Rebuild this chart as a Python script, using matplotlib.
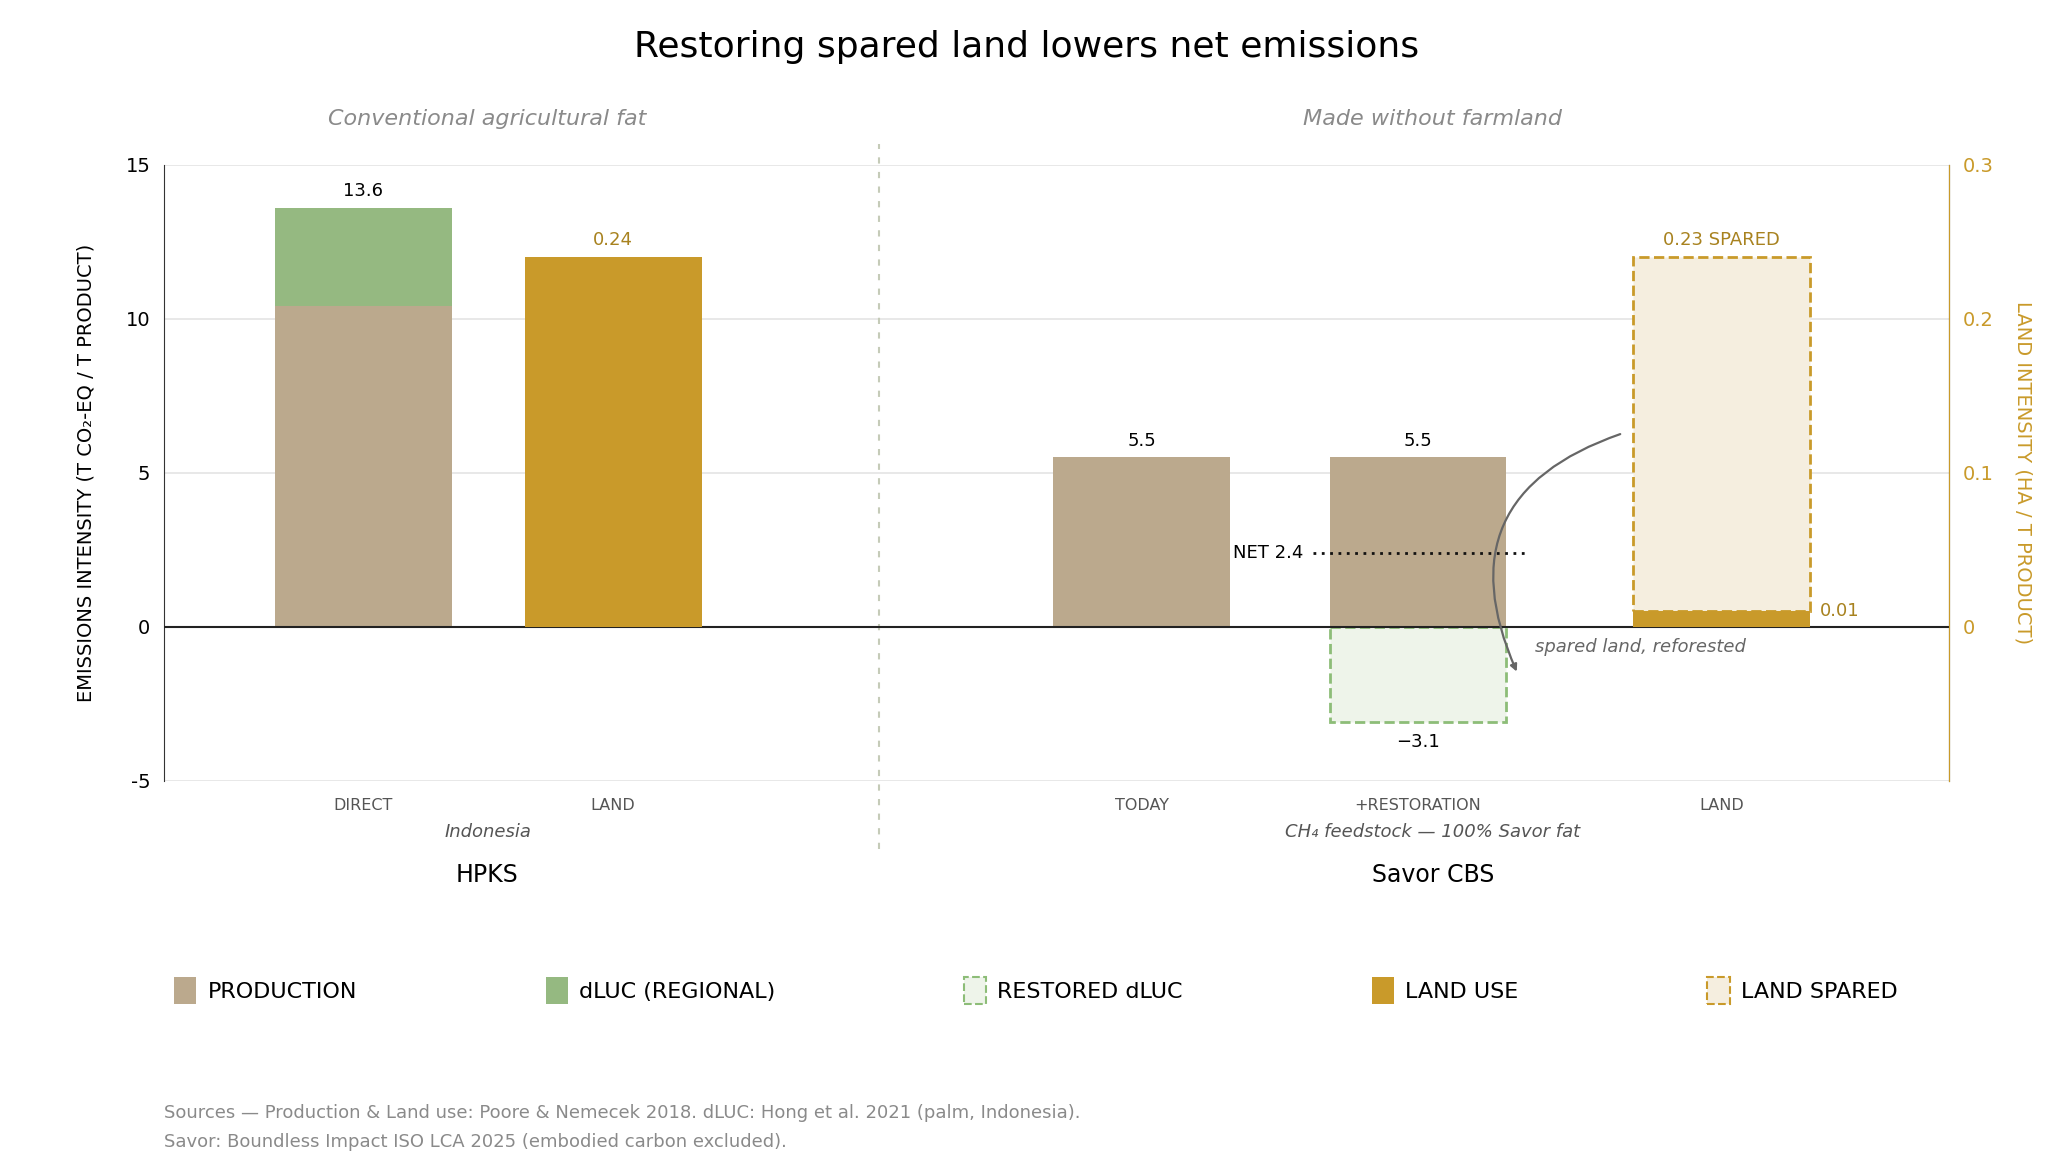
import matplotlib.pyplot as plt
from matplotlib.patches import Patch
import matplotlib.transforms as mtrans

# data
cats = ["DIRECT", "LAND", "TODAY", "+RESTORATION", "LAND"]
xpos = [0, 1, 3.115, 4.22, 5.435]
production = [10.4, 5.5, 5.5]      # DIRECT, TODAY, +RESTORATION
dluc = 3.2                          # HPKS regional dLUC
restored = -3.1
net = 2.4
land_hpks = 0.24
land_savor = 0.01
land_spared = 0.23

C_PROD = "#BBA98D"
C_DLUC = "#95B981"
C_LAND = "#C99A2A"
C_SPARE = "#F5EEDF"
C_REST = "#EEF4EA"
C_REST_E = "#8DBD78"
GREY = "#8a8a8a"
w = 0.707

fig = plt.figure(figsize=(20.54, 11.67), dpi=100)
ax = fig.add_axes([0.080, 0.331, 0.869, 0.528])
ax2 = ax.twinx()
ax.set_ylim(-5, 15)
ax2.set_ylim(-0.1, 0.3)
ax.set_xlim(-0.796, 6.346)

for y in [5, 10, 15, -5]:
    ax.axhline(y, color="#e6e6e6", lw=1.3, zorder=0)
ax.axhline(0, color="#222222", lw=1.5, zorder=5)

# HPKS direct
ax.bar(xpos[0], production[0], w, color=C_PROD, zorder=2)
ax.bar(xpos[0], dluc, w, bottom=production[0], color=C_DLUC, zorder=2)
ax.text(xpos[0], production[0] + dluc + 0.25, "13.6", ha="center", va="bottom", fontsize=13)
# HPKS land
ax2.bar(xpos[1], land_hpks, w, color=C_LAND, zorder=2)
ax2.text(xpos[1], land_hpks + 0.005, "0.24", ha="center", va="bottom", fontsize=13, color="#a8821f")
# Savor
ax.bar(xpos[2], production[1], w, color=C_PROD, zorder=2)
ax.text(xpos[2], production[1] + 0.25, "5.5", ha="center", va="bottom", fontsize=13)
ax.bar(xpos[3], production[2], w, color=C_PROD, zorder=2)
ax.text(xpos[3], production[2] + 0.25, "5.5", ha="center", va="bottom", fontsize=13)
ax.bar(xpos[3], restored, w, color=C_REST, edgecolor=C_REST_E, ls="--", lw=2, zorder=2)
ax.text(xpos[3], restored - 0.35, "\u22123.1", ha="center", va="top", fontsize=13)
ax.plot([3.80, 4.65], [net, net], ls=(0, (1, 2)), color="#111111", lw=2, zorder=6)
ax.text(3.76, net, "NET 2.4", ha="right", va="center", fontsize=13, zorder=6)
# Savor land
ax2.bar(xpos[4], land_spared, w, bottom=land_savor, color=C_SPARE, edgecolor=C_LAND,
        ls="--", lw=2, zorder=2)
ax2.bar(xpos[4], land_savor, w, color=C_LAND, zorder=3)
ax2.text(xpos[4], land_savor + land_spared + 0.005, "0.23 SPARED", ha="center", va="bottom",
         fontsize=13, color="#a8821f")
ax2.text(xpos[4] + w / 2 + 0.04, land_savor, "0.01", ha="left", va="center", fontsize=13, color="#a8821f")

ax.annotate("", xy=(4.62, -1.54), xytext=(5.04, 6.28),
            arrowprops=dict(arrowstyle="-|>", color="#666666", lw=1.6,
                            connectionstyle="arc3,rad=0.55"), zorder=7)
ax.text(4.69, -0.65, "spared land, reforested", style="italic", color="#666666",
        fontsize=13, ha="left", va="center")

# axes styling
for s in ["top"]:
    ax.spines[s].set_visible(False)
    ax2.spines[s].set_visible(False)
ax.spines["bottom"].set_visible(False)
ax2.spines["bottom"].set_visible(False)
ax.spines["left"].set_color("#333333")
ax2.spines["left"].set_visible(False)
ax2.spines["right"].set_color(C_LAND)
ax.set_xticks([])
ax.set_yticks([-5, 0, 5, 10, 15])
ax.set_yticklabels(["-5", "0", "5", "10", "15"])
ax.tick_params(axis="y", length=0, labelsize=14, pad=10)
ax2.set_yticks([0, 0.1, 0.2, 0.3])
ax2.set_yticklabels(["0", "0.1", "0.2", "0.3"])
ax2.tick_params(axis="y", length=0, labelsize=14, colors=C_LAND, pad=10)
ax.set_ylabel("EMISSIONS INTENSITY (T CO\u2082-EQ / T PRODUCT)", fontsize=14, labelpad=22)
ax2.set_ylabel("LAND INTENSITY (HA / T PRODUCT)", fontsize=14, color=C_LAND, rotation=270, labelpad=28)

tr = mtrans.blended_transform_factory(ax.transData, ax.transAxes)
for x, c in zip(xpos, cats):
    ax.text(x, -0.040, c, transform=tr, ha="center", va="center", fontsize=11.5, color="#555555")
ax.text(0.497, -0.083, "Indonesia", transform=tr, ha="center", va="center", fontsize=13,
        style="italic", color="#555555")
ax.text(4.28, -0.083, "CH\u2084 feedstock \u2014 100% Savor fat", transform=tr, ha="center",
        va="center", fontsize=13, style="italic", color="#555555")
ax.text(0.497, -0.153, "HPKS", transform=tr, ha="center", va="center", fontsize=17)
ax.text(4.28, -0.153, "Savor CBS", transform=tr, ha="center", va="center", fontsize=17)
ax.text(0.497, 1.074, "Conventional agricultural fat", transform=tr, ha="center", va="center",
        fontsize=16, style="italic", color=GREY)
ax.text(4.28, 1.074, "Made without farmland", transform=tr, ha="center", va="center",
        fontsize=16, style="italic", color=GREY)
ax.plot([2.063, 2.063], [-0.111, 1.034], transform=tr, ls=(0, (3, 4)), color="#c5cbb8",
        lw=1.5, clip_on=False)

fig.text(0.5, 0.96, "Restoring spared land lowers net emissions", ha="center", va="center", fontsize=26)

handles = [
    Patch(facecolor=C_PROD, label="PRODUCTION"),
    Patch(facecolor=C_DLUC, label="dLUC (REGIONAL)"),
    Patch(facecolor=C_REST, edgecolor=C_REST_E, ls="--", lw=1.5, label="RESTORED dLUC"),
    Patch(facecolor=C_LAND, label="LAND USE"),
    Patch(facecolor=C_SPARE, edgecolor=C_LAND, ls="--", lw=1.5, label="LAND SPARED"),
]
fig.legend(handles=handles, loc="center left", bbox_to_anchor=(0.075, 0.151), ncol=5,
           frameon=False, fontsize=16, handlelength=1.0, handleheight=1.5,
           handletextpad=0.5, columnspacing=8.5)

fig.text(0.080, 0.046, "Sources \u2014 Production & Land use: Poore & Nemecek 2018. dLUC: Hong et al. 2021 (palm, Indonesia).",
         fontsize=13, color=GREY, va="center")
fig.text(0.080, 0.021, "Savor: Boundless Impact ISO LCA 2025 (embodied carbon excluded).",
         fontsize=13, color=GREY, va="center")

fig.savefig("out.png", dpi=100)
